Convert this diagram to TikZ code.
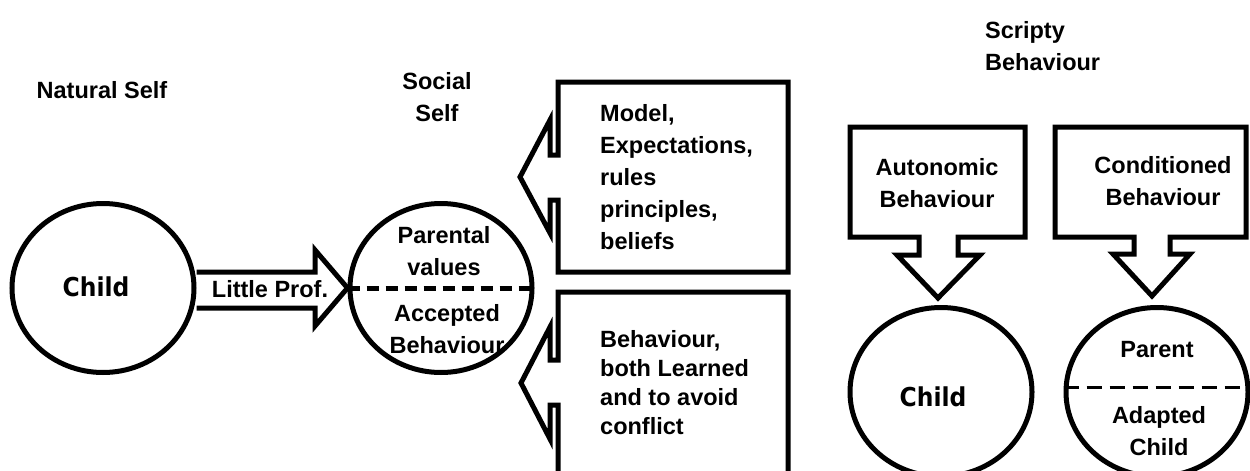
\documentclass[tikz,border=0pt]{standalone}
\usepackage{fontspec}
\setmainfont{Liberation Sans}
\newfontfamily\childfont{DejaVu Sans Condensed}
\usetikzlibrary{shapes.geometric}

\tikzset{
  self/.style={draw, ellipse, line width=5pt, minimum width=182pt, minimum height=169pt, inner sep=0pt},
  callout/.style={draw, line width=5pt, miter limit=10},
  txt/.style={inner sep=0pt, align=left, font=\bfseries\fontsize{23.5}{32}\selectfont},
  ctxt/.style={inner sep=0pt, align=center, font=\bfseries\fontsize{23.5}{32}\selectfont},
  childtxt/.style={inner sep=0pt, font=\childfont\bfseries\fontsize{26}{30}\selectfont},
  split/.style={line width=5pt, dash pattern=on 12pt off 7pt},
}

\begin{document}
\begin{tikzpicture}[x=1pt,y=-1pt]
    \useasboundingbox (0,0) rectangle (1250,471);

    % headings
    \node [ctxt] (natural) at (102, 90) {Natural Self};
    \node [ctxt] (social) at (437, 97) {Social\\Self};
    \node [txt, anchor=west] (scripty) at (985, 46) {Scripty\\Behaviour};

    % natural self -> social self
    \node [self] (child) at (103, 288) {};
    \node [childtxt] at (96, 287) {Child};
    \node [self] (values) at (441, 288) {};
    \draw [split] (values.west) -- (values.east);
    \node [ctxt] at (444, 251) {Parental\\values};
    \node [ctxt] at (447, 329) {Accepted\\Behaviour};

    \draw [callout] (child.east |- 0,272) -- (315,272) -- (315,250) -- (values.west)
        -- (315,326) -- (315,308) -- (child.east |- 0,308);
    \node [txt] (prof) at (270, 289) {Little Prof.};

    % callouts pointing at the social self
    \draw [callout] (558,155) -- (558,82) -- (788,82) -- (788,272) -- (558,272) -- (558,200)
        -- (550,200) -- (550,233) -- (520,177) -- (550,120) -- (550,155) -- cycle;
    \node [txt, anchor=west] (model) at (600, 177) {Model,\\Expectations,\\rules\\principles,\\beliefs};

    \draw [callout] (558,360) -- (558,292) -- (788,292) -- (788,480) -- (558,480) -- (558,405)
        -- (550,405) -- (550,439) -- (521,383) -- (550,327) -- (550,360) -- cycle;
    \node [txt, anchor=west, font=\bfseries\fontsize{23.5}{29}\selectfont] (learned) at (600, 383)
        {Behaviour,\\both Learned\\and to avoid\\conflict};

    % scripty behaviour
    \draw [callout] (919,237) -- (850,237) -- (850,127) -- (1025,127) -- (1025,237) -- (958,237)
        -- (958,255) -- (980,255) -- (938,298) -- (897,255) -- (919,255) -- cycle;
    \node [ctxt] (auto) at (937, 183) {Autonomic\\Behaviour};

    \draw [callout] (1134,237) -- (1055,237) -- (1055,127) -- (1246,127) -- (1246,237) -- (1170,237)
        -- (1170,254) -- (1190,254) -- (1152,296) -- (1113,254) -- (1134,254) -- cycle;
    \node [ctxt] (cond) at (1163, 181) {Conditioned\\Behaviour};

    \node [self] (child2) at (941, 392) {};
    \node [childtxt] at (933, 397) {Child};
    \node [self] (adapted) at (1157, 392) {};
    \draw [line width=3pt, dash pattern=on 15pt off 8pt] (adapted.west |- 0,387) -- (adapted.east |- 0,387);
    \node [ctxt] at (1157, 350) {Parent};
    \node [ctxt] at (1159, 431) {Adapted\\Child};
\end{tikzpicture}
\end{document}
